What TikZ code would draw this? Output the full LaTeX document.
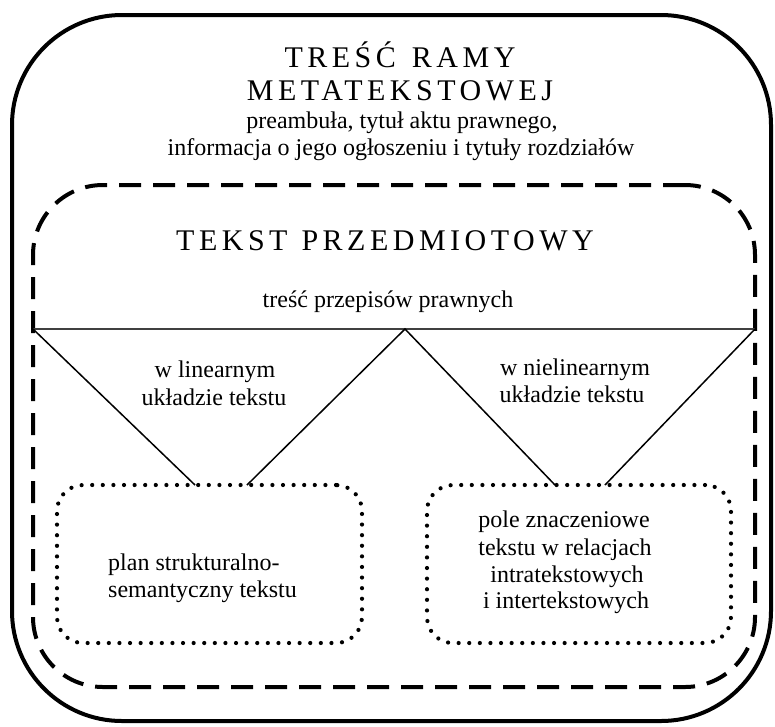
\documentclass[tikz,border=0pt]{standalone}
\usepackage{fontspec}
\setmainfont{Liberation Serif}
\begin{document}
\begin{tikzpicture}[x=1pt,y=-1pt,
  body/.style={font=\fontsize{24}{27}\selectfont, inner sep=0pt, anchor=base},
  heading/.style={font=\fontsize{30}{33}\selectfont\addfontfeature{LetterSpace=15}, inner sep=0pt, anchor=base},
  outerframe/.style={draw, line width=4pt, rounded corners=110pt, inner sep=0pt},
  innerframe/.style={draw, line width=4pt, dash pattern=on 22pt off 12pt, rounded corners=70pt, inner sep=0pt},
  dotframe/.style={draw, line width=4.2pt, line cap=round, dash pattern=on 0pt off 10.6pt, rounded corners=26pt, inner sep=0pt},
  divider/.style={draw=black!75, line width=1.2pt},
  branch/.style={draw, line width=1.5pt}]
\useasboundingbox (0,0) rectangle (775,726);

% frames
\node[outerframe, minimum width=759pt, minimum height=706pt] (outer) at (391.5,368) {};
\node[innerframe, minimum width=722pt, minimum height=502pt] (inner) at (394,436) {};
\node[dotframe, minimum width=305pt, minimum height=158pt] (plan) at (209.5,564) {};
\node[dotframe, minimum width=304pt, minimum height=158pt] (pole) at (579,564) {};

% dividing line and its branches
\coordinate (dl) at (33,329);
\coordinate (dm) at (405,329);
\coordinate (dr) at (755,329);
\coordinate (p1) at (195,485);
\coordinate (p2) at (247,485);
\coordinate (q1) at (555,485);
\coordinate (q2) at (605,485);
\draw[divider] (dl) -- (dr);
\draw[branch] (dl) -- (p1);
\draw[branch] (p2) -- (dm) -- (q1);
\draw[branch] (q2) -- (dr);

% texts
\node[heading] (t1) at (400,67) {TREŚĆ \hspace{4pt}RAMY};
\node[heading] (t2) at (400,100) {METATEKSTOWEJ};
\node[body] (m1) at (402,128) {preambuła, tytuł aktu prawnego,};
\node[body] (m2) at (401,155) {informacja o jego ogłoszeniu i tytuły rozdziałów};
\node[heading] (tp) at (385,250) {TEKST \hspace{2pt}PRZEDMIOTOWY};
\node[body] (tr) at (388,307) {treść przepisów prawnych};
\node[body] (l1) at (215,377) {w linearnym};
\node[body] (l2) at (214,405) {układzie tekstu};
\node[body] (n1) at (575,375) {w nielinearnym};
\node[body] (n2) at (572,402) {układzie tekstu};
\node[body, anchor=base west] (s1) at (108,570) {plan strukturalno-};
\node[body, anchor=base west] (s2) at (108,597) {semantyczny tekstu};
\node[body] (f1) at (564,527) {pole znaczeniowe};
\node[body] (f2) at (565,555) {tekstu w relacjach};
\node[body] (f3) at (567,582) {intratekstowych};
\node[body] (f4) at (566,608) {i intertekstowych};
\end{tikzpicture}
\end{document}
